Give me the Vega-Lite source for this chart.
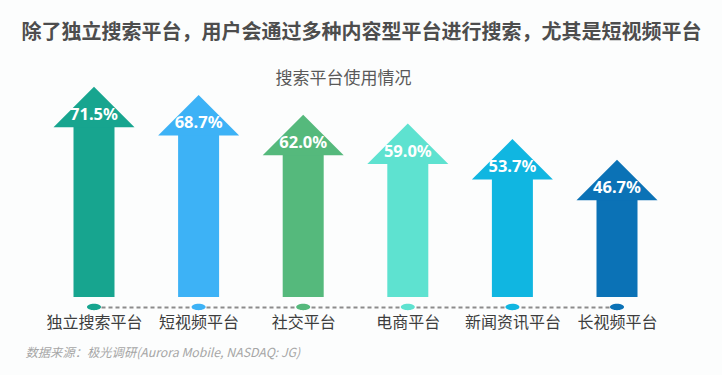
{
  "$schema": "https://vega.github.io/schema/vega-lite/v6.json",
  "width": 523,
  "height": 217,
  "autosize": {"type": "none"},
  "padding": {"left": 94, "right": 105, "top": 90, "bottom": 68},
  "background": "#fcfdfd",
  "title": {
    "text": "除了独立搜索平台，用户会通过多种内容型平台进行搜索，尤其是短视频平台",
    "font": "Noto Sans CJK SC",
    "fontSize": 20,
    "fontWeight": "bold",
    "color": "#4d4d4d",
    "anchor": "middle",
    "dx": 6,
    "offset": 26
  },
  "config": {"view": {"stroke": null}},
  "data": {
    "values": [
      {"platform": "独立搜索平台", "share": 0.715},
      {"platform": "短视频平台", "share": 0.687},
      {"platform": "社交平台", "share": 0.620},
      {"platform": "电商平台", "share": 0.590},
      {"platform": "新闻资讯平台", "share": 0.537},
      {"platform": "长视频平台", "share": 0.467}
    ]
  },
  "encoding": {
    "x": {
      "field": "platform",
      "type": "nominal",
      "sort": null,
      "scale": {"type": "point", "padding": 0},
      "axis": {
        "title": "数据来源：极光调研(Aurora Mobile, NASDAQ: JG)",
        "orient": "bottom",
        "domain": true,
        "domainColor": "#8c8c8c",
        "domainDash": [4, 3],
        "domainWidth": 2,
        "ticks": false,
        "tickSize": 0,
        "grid": false,
        "labelPadding": 7,
        "labelAngle": 0,
        "labelBaseline": "top",
        "labelFont": "Noto Sans CJK SC",
        "labelFontSize": 16,
        "labelColor": "#3d3d3d",
        "titleFont": "Noto Sans CJK SC",
        "titleFontSize": 12.3,
        "titleFontStyle": "italic",
        "titleFontWeight": "normal",
        "titleColor": "#a6a6a6",
        "titleX": -69,
        "titleY": 45,
        "titleAlign": "left",
        "titleBaseline": "middle"
      }
    },
    "color": {
      "field": "platform",
      "type": "nominal",
      "sort": null,
      "scale": {
        "domain": ["独立搜索平台", "短视频平台", "社交平台", "电商平台", "新闻资讯平台", "长视频平台"],
        "range": ["#17a58f", "#3db2f6", "#55b97c", "#5ee2d0", "#10b6e1", "#0b72b6"]
      },
      "legend": null
    }
  },
  "layer": [
    {
      "mark": {"type": "bar", "width": 41, "yOffset": 35},
      "encoding": {
        "y": {
          "field": "share",
          "type": "quantitative",
          "scale": {"domain": [-0.034, 0.704], "nice": false, "zero": false},
          "axis": {
            "title": "搜索平台使用情况",
            "titleAngle": 0,
            "titleX": 249,
            "titleY": -12,
            "titleAlign": "center",
            "titleBaseline": "middle",
            "titleFont": "Noto Sans CJK SC",
            "titleFontSize": 17,
            "titleFontWeight": "normal",
            "titleColor": "#595959",
            "labels": false,
            "ticks": false,
            "domain": false,
            "grid": false
          }
        },
        "y2": {"datum": 0}
      }
    },
    {
      "mark": {"type": "point", "shape": "M0,0L1,1L-1,1Z", "size": 6561, "filled": true, "opacity": 1, "strokeWidth": 0},
      "encoding": {
        "y": {"field": "share", "type": "quantitative"}
      }
    },
    {
      "mark": {"type": "text", "yOffset": 28, "baseline": "middle", "align": "center", "font": "Noto Sans", "fontSize": 16.5, "fontWeight": "bold"},
      "encoding": {
        "y": {"field": "share", "type": "quantitative"},
        "text": {"field": "share", "type": "quantitative", "format": ".1%"},
        "color": {"value": "white"}
      }
    },
    {
      "mark": {"type": "point", "shape": "M-1,0A1,0.45 0 1,1 1,0A1,0.45 0 1,1 -1,0Z", "size": 196, "filled": true, "opacity": 1, "strokeWidth": 0},
      "encoding": {
        "y": {"datum": -0.034}
      }
    }
  ]
}
